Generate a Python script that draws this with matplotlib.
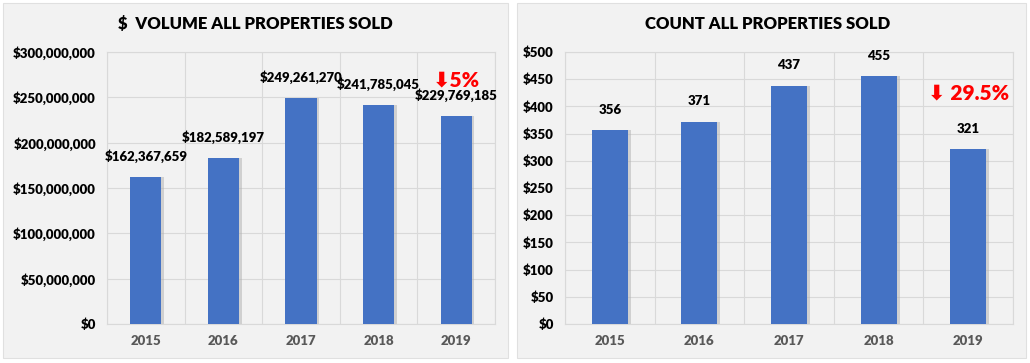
import matplotlib.pyplot as plt
from matplotlib.patches import Rectangle
from matplotlib.ticker import FuncFormatter

years = ['2015', '2016', '2017', '2018', '2019']
volume = [162367659, 182589197, 249261270, 241785045, 229769185]
count = [356, 371, 437, 455, 321]

plt.rcParams['font.family'] = ['Lato', 'DejaVu Sans']
W = 'heavy'

blue = '#4472C4'
panel_bg = '#f2f2f2'
grid_c = '#d9d9d9'

fig = plt.figure(figsize=(10.3, 3.63), dpi=100)
fig.patches.append(Rectangle((0.003, 0.014), 0.490, 0.978, transform=fig.transFigure,
                             facecolor=panel_bg, edgecolor='#e0e0e0', lw=0.8, zorder=-1))
fig.patches.append(Rectangle((0.502, 0.014), 0.494, 0.978, transform=fig.transFigure,
                             facecolor=panel_bg, edgecolor='#e0e0e0', lw=0.8, zorder=-1))


def setup(ax, vals, ymax, step, fmt, title, tx):
    x = range(len(vals))
    # soft shadow to the right of each bar
    ax.bar([i + 0.035 for i in x], vals, width=0.4, color='#b0b0b0', alpha=0.5, zorder=2)
    ax.bar(x, vals, width=0.4, color=blue, zorder=3)
    ax.set_xlim(-0.5, 4.5)
    ax.set_ylim(0, ymax)
    ax.set_yticks([i * step for i in range(int(ymax / step) + 1)])
    ax.yaxis.set_major_formatter(FuncFormatter(fmt))
    ax.set_xticks(list(x))
    ax.set_xticklabels(years, color='#595959', fontsize=9.5, fontweight=W)
    for lab in ax.get_yticklabels():
        lab.set_fontsize(9.5)
        lab.set_fontweight(W)
    ax.set_facecolor(panel_bg)
    ax.tick_params(length=0, pad=8)
    ax.set_xticks([i - 0.5 for i in range(6)], minor=True)
    ax.tick_params(which='minor', length=0)
    ax.grid(axis='y', color=grid_c, lw=0.8, zorder=0)
    ax.grid(axis='x', which='minor', color=grid_c, lw=0.8, zorder=0)
    for s in ax.spines.values():
        s.set_color(grid_c)
        s.set_linewidth(0.8)
    fig.text(tx, 0.934, title, ha='center', va='center', fontsize=12, fontweight=W)


ax1 = fig.add_axes([0.1039, 0.1074, 0.3767, 0.7493])
setup(ax1, volume, 300000000, 50000000, lambda v, p: '${:,.0f}'.format(v),
      '$  VOLUME ALL PROPERTIES SOLD', 0.2476)
for i, v in enumerate(volume):
    ax1.annotate('${:,}'.format(v), (i, v), xytext=(0, 15), textcoords='offset points',
                 ha='center', va='center', fontsize=9.5, fontweight=W)
ax1.text(4, 269000000, '\u2B07' + '5%', ha='center', va='center', color='#ff0000',
         fontsize=15, fontweight=W)

ax2 = fig.add_axes([0.5485, 0.1074, 0.435, 0.7493])
setup(ax2, count, 500, 50, lambda v, p: '${:,.0f}'.format(v),
      'COUNT ALL PROPERTIES SOLD', 0.7456)
for i, v in enumerate(count):
    ax2.annotate(str(v), (i, v), xytext=(0, 15), textcoords='offset points',
                 ha='center', va='center', fontsize=9.5, fontweight=W)
ax2.text(4, 425, '\u2B07' + ' 29.5%', ha='center', va='center', color='#ff0000',
         fontsize=15, fontweight=W)

fig.savefig('out.png', dpi=100)
